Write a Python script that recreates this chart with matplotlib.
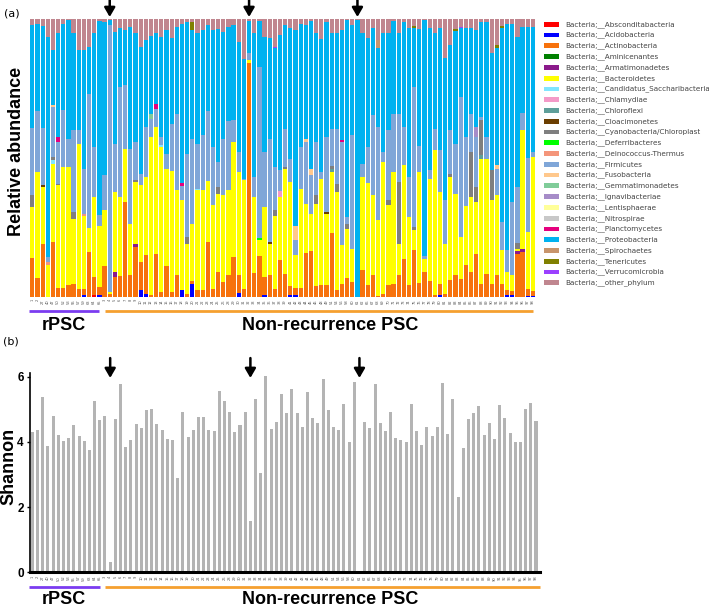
import matplotlib
matplotlib.use("Agg")
import matplotlib.pyplot as plt
import numpy as np
from matplotlib.patches import Rectangle
from matplotlib.transforms import blended_transform_factory

# ---------------- data ----------------
rpsc_ids = [1, 2, 27, 40, 47, 50, 52, 53, 55, 57, 59, 63, 64, 65]
nonrec_ids = [3, 4, 5, 6, 7, 8, 9, 10, 11, 12, 13, 14, 15, 16, 17, 18, 19, 20, 21, 22, 23, 24, 25, 26,
              28, 29, 30, 31, 32, 33, 34, 35, 36, 37, 38, 39, 41, 42, 43, 44, 45, 46,
              48, 49, 51, 54, 56, 58, 60, 61, 62,
              66, 67, 68, 69, 70, 71, 72, 73, 74, 75, 76, 77, 78, 79, 80, 81, 82, 83, 84, 85, 86,
              87, 88, 89, 90, 91, 92, 93, 94, 95, 96, 97, 98]
arrow_samples = [16, 43, 64]  # 1-based positions

shannon = [4.31, 4.36, 5.37, 3.86, 4.78, 4.22, 4.04, 4.13, 4.53, 4.17, 4.02, 3.76, 5.26, 4.67, 4.78,
           0.31, 4.70, 5.78, 3.83, 4.06, 4.55, 4.42, 4.98, 5.01, 4.55,
           4.37, 4.09, 4.05, 2.88, 4.93, 4.15, 4.37, 4.77, 4.75, 4.37, 4.33, 5.56, 5.25, 4.92, 4.29,
           4.52, 4.92, 1.57, 5.31, 3.05, 6.01, 4.40, 4.60, 5.46, 4.89,
           5.61, 4.90, 4.47, 5.52, 4.72, 4.58, 5.92, 4.98, 4.45, 4.36, 5.16, 4.01, 5.83, 0.0, 4.61,
           4.44, 5.76, 4.58, 4.33, 4.93, 4.13, 4.06, 4.00, 5.17, 4.33,
           3.91, 4.47, 4.18, 4.45, 5.80, 4.23, 5.33, 2.30, 3.81, 4.71, 4.88, 5.10, 4.22, 4.59, 4.08,
           5.14, 4.74, 4.28, 4.01, 4.01, 5.01, 5.18, 4.65]

actinobacteria = [14.2, 6.8, 19.0, 0.0, 19.8, 3.4, 3.4, 4.2, 4.8, 3.0,
                  2.4, 16.2, 6.6, 3.0, 11.0, 1.0, 7.2, 7.4, 34.2, 7.8,
                  18.0, 10.2, 14.0, 0.6, 15.4, 1.8, 11.0, 1.8, 7.8, 0.2,
                  1.0, 1.0, 2.4, 2.4, 19.8, 3.0, 9.0, 5.4, 7.8, 14.4,
                  6.4, 3.0, 84.0, 8.6, 14.6, 6.6, 7.8, 3.0, 13.2, 8.4,
                  3.2, 2.8, 3.2, 15.8, 16.6, 3.8, 4.2, 4.2, 23.2, 2.4,
                  4.6, 7.0, 5.4, 0.0, 9.8, 4.2, 7.8, 0.5, 1.0, 4.2,
                  4.8, 7.8, 13.8, 4.2, 16.8, 5.0, 9.0, 5.6, 0.6, 4.2,
                  1.2, 6.0, 7.8, 6.6, 11.4, 9.0, 15.6, 4.8, 8.4, 4.8,
                  7.8, 4.8, 2.0, 1.5, 15.6, 16.2, 2.5, 1.8]
bacteroidetes = [18.0, 38.2, 20.6, 11.4, 28.2, 36.8, 43.4, 42.6, 23.4, 52.0,
                 26.0, 8.6, 28.8, 21.9, 20.2, 0.8, 28.8, 28.6, 19.2, 18.4,
                 22.2, 27.6, 27.8, 56.8, 45.8, 52.2, 35.2, 43.5, 30.6, 32.2,
                 18.2, 20.4, 36.0, 36.0, 22.0, 30.0, 28.0, 31.2, 30.6, 41.4,
                 37.2, 39.0, 1.2, 27.4, 5.8, 25.2, 11.2, 26.1, 22.8, 37.6,
                 37.6, 11.8, 35.5, 17.8, 13.4, 29.8, 38.4, 25.8, 21.8, 35.4,
                 14.0, 17.6, 12.0, 0.0, 33.2, 36.9, 28.8, 27.1, 47.6, 28.8,
                 40.2, 11.4, 33.6, 24.6, 7.2, 40.0, 4.8, 37.0, 52.2, 33.0,
                 18.0, 37.2, 29.4, 15.0, 21.3, 27.0, 18.6, 45.0, 41.4, 30.0,
                 28.8, 12.0, 6.4, 5.7, 1.0, 43.0, 20.5, 48.0]
firmicutes = [24.3, 21.9, 20.7, 1.8, 18.0, 15.0, 20.4, 10.2, 29.4, 5.0,
              16.0, 48.4, 18.0, 3.9, 12.6, 96.0, 17.4, 39.4, 22.8, 27.2,
              13.8, 4.2, 18.2, 6.8, 6.3, 2.8, 5.4, 17.1, 27.6, 5.1,
              30.0, 30.8, 16.0, 19.8, 25.0, 21.0, 9.0, 20.4, 25.0, 8.0,
              7.2, 0.5, 2.4, 7.2, 61.4, 19.8, 37.2, 15.6, 7.6, 13.8,
              8.4, 5.4, 15.3, 22.2, 13.8, 19.2, 2.4, 27.0, 13.3, 19.5,
              37.2, 2.6, 40.8, 0.0, 5.0, 12.9, 28.8, 33.6, 3.6, 25.2,
              21.0, 24.6, 13.8, 14.4, 50.4, 9.3, 1.0, 3.0, 7.8, 15.0,
              15.6, 15.6, 18.0, 50.4, 24.9, 13.8, 18.0, 1.0, 7.8, 0.0,
              9.6, 10.2, 7.8, 26.4, 20.0, 6.0, 26.5, 2.0]
proteobacteria = [36.9, 31.4, 36.6, 79.2, 19.8, 37.4, 31.1, 42.6, 34.8, 28.8,
                  42.8, 16.8, 40.8, 69.9, 55.2, 1.8, 40.2, 21.2, 19.8, 43.8,
                  39.0, 45.6, 31.2, 27.9, 25.5, 36.0, 44.4, 30.6, 31.2, 57.2,
                  47.4, 39.0, 40.0, 37.8, 31.0, 42.0, 48.0, 38.4, 33.6, 34.0,
                  39.6, 43.2, 11.7, 51.6, 16.5, 41.4, 36.0, 42.6, 48.6, 37.2,
                  46.8, 70.5, 44.3, 41.0, 53.1, 39.0, 47.7, 41.4, 34.5, 34.8,
                  39.4, 70.8, 39.6, 99.6, 46.8, 39.0, 31.2, 28.2, 42.6, 34.8,
                  33.3, 28.8, 37.8, 53.4, 21.2, 42.0, 84.8, 51.0, 34.2, 43.8,
                  51.0, 30.6, 40.6, 24.6, 39.0, 30.6, 34.8, 34.4, 41.4, 42.0,
                  42.0, 69.8, 81.5, 64.1, 54.0, 31.0, 47.3, 45.0]
other_phylum = [2.2, 1.7, 2.5, 6.4, 11.2, 5.2, 1.7, 0.4, 5.2, 11.2,
                11.2, 10.0, 5.2, 0.7, 1.0, 0.4, 4.6, 3.4, 4.0, 2.8,
                5.2, 10.0, 7.6, 6.1, 5.2, 6.4, 4.0, 7.0, 2.8, 1.7,
                1.0, 1.0, 5.0, 4.0, 2.2, 4.0, 3.6, 4.6, 3.0, 2.2,
                8.2, 14.3, 0.7, 5.2, 0.7, 6.4, 7.0, 10.0, 5.8, 2.2,
                3.4, 4.0, 1.7, 2.0, 0.7, 5.2, 7.3, 1.0, 5.2, 4.9,
                4.0, 0.4, 2.2, 0.4, 5.2, 7.0, 3.4, 7.6, 5.2, 5.2,
                0.7, 5.2, 1.0, 3.4, 2.6, 3.7, 0.4, 3.4, 5.2, 3.4,
                14.2, 9.4, 3.6, 2.8, 3.4, 3.4, 4.0, 1.0, 1.0, 12.4,
                9.4, 2.4, 1.7, 1.7, 6.6, 2.8, 2.7, 2.7]

# minor phyla: {sample position (1-based): percent}
absconditabacteria = {13: 0.6}
acidobacteria = {11: 0.6, 14: 0.6, 22: 2.4, 23: 1.2, 30: 2.4, 32: 4.8, 41: 1.4, 46: 0.6, 51: 0.6,
                 52: 0.6, 80: 0.6, 93: 0.6, 94: 0.6, 97: 0.5, 98: 0.5}
aminicenantes = {}
armatimonadetes = {17: 1.8, 21: 1.2, 95: 0.8, 96: 1.0}
saccharibacteria = {5: 1.2, 26: 0.8, 33: 0.6}
chlamydiae = {49: 2.0}
chloroflexi = {59: 1.2, 88: 1.2}
cloacimonetes = {3: 0.6, 47: 0.8, 58: 0.6}
cyanobacteria = {1: 4.4, 5: 1.2, 6: 0.6, 9: 2.4, 21: 0.6, 31: 2.4, 37: 2.4, 48: 2.1, 50: 0.8, 56: 3.0,
                 59: 0.8, 60: 3.0, 62: 1.6, 70: 1.8, 72: 22.2, 75: 1.2, 82: 1.2, 86: 16.2, 87: 5.4,
                 88: 12.6, 90: 10.8, 95: 2.0}
deferribacteres = {45: 1.0}
deinococcus = {4: 1.2, 11: 1.0}
fusobacteria = {5: 0.6, 52: 4.9, 54: 1.2, 55: 2.4, 91: 1.2}
gemmatimonadetes = {24: 1.8}
ignavibacteriae = {87: 3.6}
lentisphaerae = {}
nitrospirae = {}
planctomycetes = {6: 1.6, 25: 1.8, 30: 1.2, 61: 0.8}
spirochaetes = {68: 3.0}
tenericutes = {32: 3.0, 75: 0.6, 83: 0.6, 91: 1.2, 92: 0.8}
verrucomicrobia = {48: 0.6, 84: 0.6}

taxa_names = ["Absconditabacteria", "Acidobacteria", "Actinobacteria", "Aminicenantes",
              "Armatimonadetes", "Bacteroidetes", "Candidatus_Saccharibacteria", "Chlamydiae",
              "Chloroflexi", "Cloacimonetes", "Cyanobacteria/Chloroplast", "Deferribacteres",
              "Deinococcus-Thermus", "Firmicutes", "Fusobacteria", "Gemmatimonadetes",
              "Ignavibacteriae", "Lentisphaerae", "Nitrospirae", "Planctomycetes",
              "Proteobacteria", "Spirochaetes", "Tenericutes", "Verrucomicrobia", "other_phylum"]
taxa_colors = ["#FF0000", "#0000FF", "#F7720C", "#008000", "#8B1A8B", "#FFFF00", "#80E6FF",
               "#F49AC8", "#5F9F9A", "#6B3E00", "#7F7F7F", "#00FF00", "#F4957A", "#7FA6D8",
               "#FFC88C", "#80CC99", "#A68CC8", "#FFFF99", "#C8C8C8", "#E6007E", "#00B2F0",
               "#C8956C", "#808000", "#9B40FF", "#C0868F"]

n = len(shannon)


def dense(d):
    arr = np.zeros(n)
    for k, v in d.items():
        arr[k - 1] = v
    return arr


taxa_values = [dense(absconditabacteria), dense(acidobacteria), np.array(actinobacteria),
               dense(aminicenantes), dense(armatimonadetes), np.array(bacteroidetes),
               dense(saccharibacteria), dense(chlamydiae), dense(chloroflexi), dense(cloacimonetes),
               dense(cyanobacteria), dense(deferribacteres), dense(deinococcus), np.array(firmicutes),
               dense(fusobacteria), dense(gemmatimonadetes), dense(ignavibacteriae),
               dense(lentisphaerae), dense(nitrospirae), dense(planctomycetes),
               np.array(proteobacteria), dense(spirochaetes), dense(tenericutes),
               dense(verrucomicrobia), np.array(other_phylum)]
totals = np.sum(taxa_values, axis=0)
sample_labels = [str(s) for s in rpsc_ids + nonrec_ids]

# ---------------- figure ----------------
W, H = 709, 606
fig = plt.figure(figsize=(W / 100, H / 100), dpi=100)
fig.patch.set_facecolor("white")


def fx(px):
    return px / W


def fy(py):
    return 1 - py / H


BOLD = dict(family="Liberation Sans", weight="bold")
x = np.arange(n)

# ---- panel (a)
ax1 = fig.add_axes([fx(30), fy(297), fx(536) - fx(30), fy(19) - fy(297)])
bottom = np.zeros(n)
for vals, col in zip(taxa_values, taxa_colors):
    frac = vals / totals
    ax1.bar(x, frac, bottom=bottom, width=0.82, color=col, linewidth=0)
    bottom += frac
ax1.set_xlim(-0.45, 97.6)
ax1.set_ylim(0, 1)
ax1.set_yticks([])
for s in ax1.spines.values():
    s.set_visible(False)
ax1.set_xticks(x)
ax1.set_xticklabels(sample_labels, rotation=90, fontsize=2.6, color="#555555")
ax1.tick_params(axis="x", length=0, pad=1.5)

# ---- panel (b)
ax2 = fig.add_axes([fx(30), fy(572.3), fx(540) - fx(30), fy(373.4) - fy(572.3)])
ax2.bar(x, shannon, width=0.58, color="#B4B4B4", linewidth=0)
ax2.set_xlim(-0.44, 97.77)
ax2.set_ylim(0, 6.1)
ax2.set_yticks([0, 2, 4, 6])
ax2.set_yticklabels(["0", "2", "4", "6"], **BOLD, fontsize=8.5)
ax2.tick_params(axis="y", length=2.5, width=1, pad=2)
ax2.set_xticks(x)
ax2.set_xticklabels(sample_labels, rotation=90, fontsize=2.6, color="#555555")
ax2.tick_params(axis="x", length=0, pad=2.5)
ax2.spines["top"].set_visible(False)
ax2.spines["right"].set_visible(False)
ax2.spines["bottom"].set_linewidth(2.2)
ax2.spines["left"].set_linewidth(1.2)

# ---- group bars and labels
purple, orange = "#7B3CF0", "#F5A030"
for ax, yfrac, xr_end in [(ax1, (297 - 311) / 278, 97.0), (ax2, (572.3 - 586.7) / 198.9, 97.8)]:
    tr = blended_transform_factory(ax.transData, ax.transAxes)
    ax.plot([-0.6, 13.0], [yfrac, yfrac], color=purple, lw=2, transform=tr, clip_on=False,
            solid_capstyle="butt")
    ax.plot([14.0, xr_end], [yfrac, yfrac], color=orange, lw=2, transform=tr, clip_on=False,
            solid_capstyle="butt")

for ypx in (325, 599):
    fig.text(fx(64), fy(ypx), "rPSC", ha="center", va="center", fontsize=13, **BOLD)
    fig.text(fx(330), fy(ypx), "Non-recurrence PSC", ha="center", va="center", fontsize=13, **BOLD)

fig.text(fx(17), fy(151), "Relative abundance", rotation=90, ha="center", va="center",
         fontsize=13, **BOLD)
fig.text(fx(9), fy(466), "Shannon", rotation=90, ha="center", va="center", fontsize=13, **BOLD)
fig.text(fx(4), fy(13.5), "(a)", ha="left", va="center", fontsize=8, family="DejaVu Sans")
fig.text(fx(3), fy(342), "(b)", ha="left", va="center", fontsize=8, family="DejaVu Sans")

# ---- arrows
arrow_kw = dict(arrowstyle="-|>,head_length=0.55,head_width=0.32", color="black", lw=1.8,
                mutation_scale=10, shrinkA=0, shrinkB=0)
tr1 = blended_transform_factory(ax1.transData, ax1.transAxes)
for s in arrow_samples:
    i = s - 1
    ax1.annotate("", xy=(i, 1 + 2 / 278), xycoords=tr1, xytext=(i, 1 + 19 / 278), textcoords=tr1,
                 arrowprops=arrow_kw)
    ax2.annotate("", xy=(i, 5.96), xycoords="data", xytext=(i, 6.57), textcoords="data",
                 arrowprops=arrow_kw, annotation_clip=False)

# ---- legend
for k, (name, col) in enumerate(zip(taxa_names, taxa_colors)):
    yc = 24.3 + k * 10.77
    fig.add_artist(Rectangle((fx(544), fy(yc + 2.4)), fx(559) - fx(544), fy(yc - 2.4) - fy(yc + 2.4),
                             transform=fig.transFigure, facecolor=col, edgecolor="none"))
    fig.text(fx(565), fy(yc), "Bacteria;__" + name, ha="left", va="center", fontsize=5.2,
             color="#444444", family="DejaVu Sans")

fig.savefig("out.png", dpi=100)
